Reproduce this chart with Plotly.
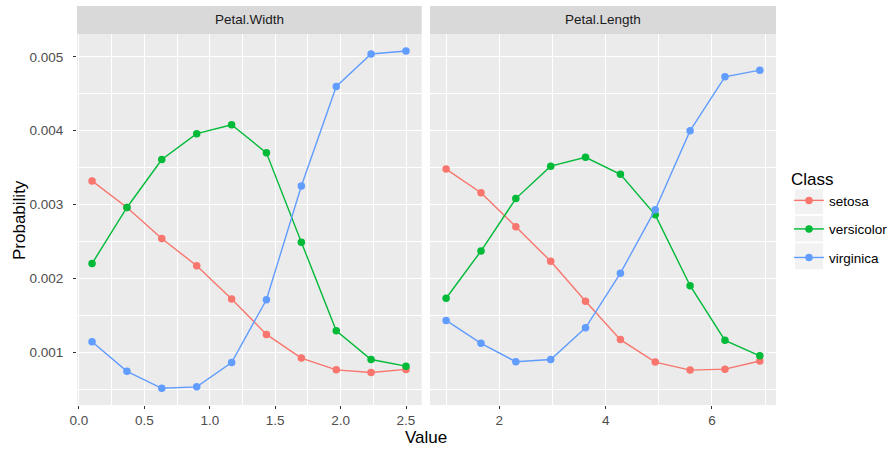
import plotly.graph_objects as go

classes = ["setosa", "versicolor", "virginica"]
colors = ["#F8766D", "#00BA38", "#619CFF"]

width_x = [0.1, 0.367, 0.633, 0.9, 1.167, 1.433, 1.7, 1.967, 2.233, 2.5]
length_x = [1.0, 1.656, 2.311, 2.967, 3.622, 4.278, 4.933, 5.589, 6.244, 6.9]

width_setosa = [0.00332, 0.00296, 0.00254, 0.00217, 0.00172, 0.00124, 0.00092, 0.00076, 0.000725, 0.000766]
width_versicolor = [0.00220, 0.00296, 0.00361, 0.00396, 0.00408, 0.00370, 0.00249, 0.00129, 0.00090, 0.00081]
width_virginica = [0.00114, 0.00074, 0.00051, 0.00053, 0.00086, 0.00171, 0.00325, 0.00460, 0.00504, 0.00508]

length_setosa = [0.00348, 0.00316, 0.00270, 0.00223, 0.00169, 0.00117, 0.000865, 0.000757, 0.00077, 0.00088]
length_versicolor = [0.00173, 0.00237, 0.00308, 0.00352, 0.00364, 0.00341, 0.00286, 0.00190, 0.00116, 0.00095]
length_virginica = [0.00143, 0.00112, 0.00087, 0.00090, 0.00133, 0.00207, 0.00293, 0.00400, 0.00473, 0.00482]

panels = ["Petal.Width", "Petal.Length"]

W, H = 891, 451
def px_x(p): return p / W
def px_y(p): return (H - p) / H

FONT = "Liberation Sans, Arial, sans-serif"

fig = go.Figure()
width_vals = [width_setosa, width_versicolor, width_virginica]
length_vals = [length_setosa, length_versicolor, length_virginica]
for i, c in enumerate(classes):
    fig.add_trace(go.Scatter(x=width_x, y=width_vals[i], mode="lines+markers", name=c,
                             legendgroup=c, line=dict(color=colors[i], width=1.4),
                             marker=dict(color=colors[i], size=7.5), xaxis="x", yaxis="y"))
for i, c in enumerate(classes):
    fig.add_trace(go.Scatter(x=length_x, y=length_vals[i], mode="lines+markers", name=c,
                             legendgroup=c, showlegend=False, line=dict(color=colors[i], width=1.4),
                             marker=dict(color=colors[i], size=7.5), xaxis="x2", yaxis="y2"))

grid = dict(showgrid=True, gridcolor="white", gridwidth=1.1, zeroline=False, showline=False)
minor_grid = dict(showgrid=True, gridcolor="white", gridwidth=0.55, ticks="")
tickfont = dict(family=FONT, size=13.5, color="#4D4D4D")

ydom = [px_y(405), px_y(34)]
yrange = [0.000284, 0.00531]

fig.update_layout(
    width=W, height=H,
    margin=dict(l=0, r=0, t=0, b=0, autoexpand=False),
    paper_bgcolor="white", plot_bgcolor="#EBEBEB",
    font=dict(family=FONT, color="black"),
    xaxis=dict(domain=[px_x(77), px_x(421.7)], range=[-0.015, 2.62], tickmode="linear", tick0=0, dtick=0.5,
               tickformat=".1f", ticks="outside", ticklen=3, tickcolor="#333333", tickwidth=1, tickfont=tickfont,
               minor=dict(dtick=0.25, tick0=0, **minor_grid), anchor="y", **grid),
    xaxis2=dict(domain=[px_x(430), px_x(776)], range=[0.697, 7.204], tickmode="linear", tick0=0, dtick=2,
                ticks="outside", ticklen=3, tickcolor="#333333", tickwidth=1, tickfont=tickfont,
                minor=dict(dtick=1, tick0=0, **minor_grid), anchor="y2", **grid),
    yaxis=dict(domain=ydom, range=yrange, tickmode="linear", tick0=0, dtick=0.001, tickformat=".3f",
               ticks="outside", ticklen=3, tickcolor="#333333", tickwidth=1, tickfont=tickfont,
               ticklabelstandoff=7,
               minor=dict(dtick=0.0005, tick0=0, **minor_grid), anchor="x", **grid),
    yaxis2=dict(domain=ydom, range=yrange, tickmode="linear", tick0=0, dtick=0.001, showticklabels=False,
                minor=dict(dtick=0.0005, tick0=0, **minor_grid), anchor="x2", **grid),
    legend=dict(x=px_x(789), y=px_y(163), xanchor="left", yanchor="top",
                bgcolor="rgba(0,0,0,0)", tracegroupgap=8, traceorder="grouped", itemwidth=30,
                title=dict(text="Class", font=dict(size=17, color="black")),
                font=dict(size=13.5, color="black")),
)

shapes = []
for x0, x1 in [(77, 421.7), (430, 776)]:
    shapes.append(dict(type="rect", xref="paper", yref="paper", x0=px_x(x0), x1=px_x(x1),
                       y0=px_y(34), y1=px_y(6), fillcolor="#D9D9D9", line=dict(width=0), layer="below"))
for y0, y1 in [(189.3, 214), (216, 241.5), (243.3, 269.3)]:
    shapes.append(dict(type="rect", xref="paper", yref="paper", x0=px_x(795), x1=px_x(823),
                       y0=px_y(y1), y1=px_y(y0), fillcolor="#F2F2F2", line=dict(width=0), layer="below"))
fig.update_layout(shapes=shapes)

ann = []
for name, (x0, x1) in zip(panels, [(77, 421.7), (430, 776)]):
    ann.append(dict(text=name, xref="paper", yref="paper", x=px_x((x0 + x1) / 2), y=px_y(20),
                    showarrow=False, font=dict(size=13.5, color="#1A1A1A"), xanchor="center", yanchor="middle"))
ann.append(dict(text="Value", xref="paper", yref="paper", x=px_x(426), y=px_y(437), showarrow=False,
                font=dict(size=17, color="black"), xanchor="center", yanchor="middle"))
ann.append(dict(text="Probability", xref="paper", yref="paper", x=px_x(19), y=px_y(220), showarrow=False,
                textangle=-90, font=dict(size=17, color="black"), xanchor="center", yanchor="middle"))
fig.update_layout(annotations=ann)

fig.write_html("out.html", config={"displayModeBar": False},
               post_script="document.body.style.margin='0';document.body.style.padding='0';")
